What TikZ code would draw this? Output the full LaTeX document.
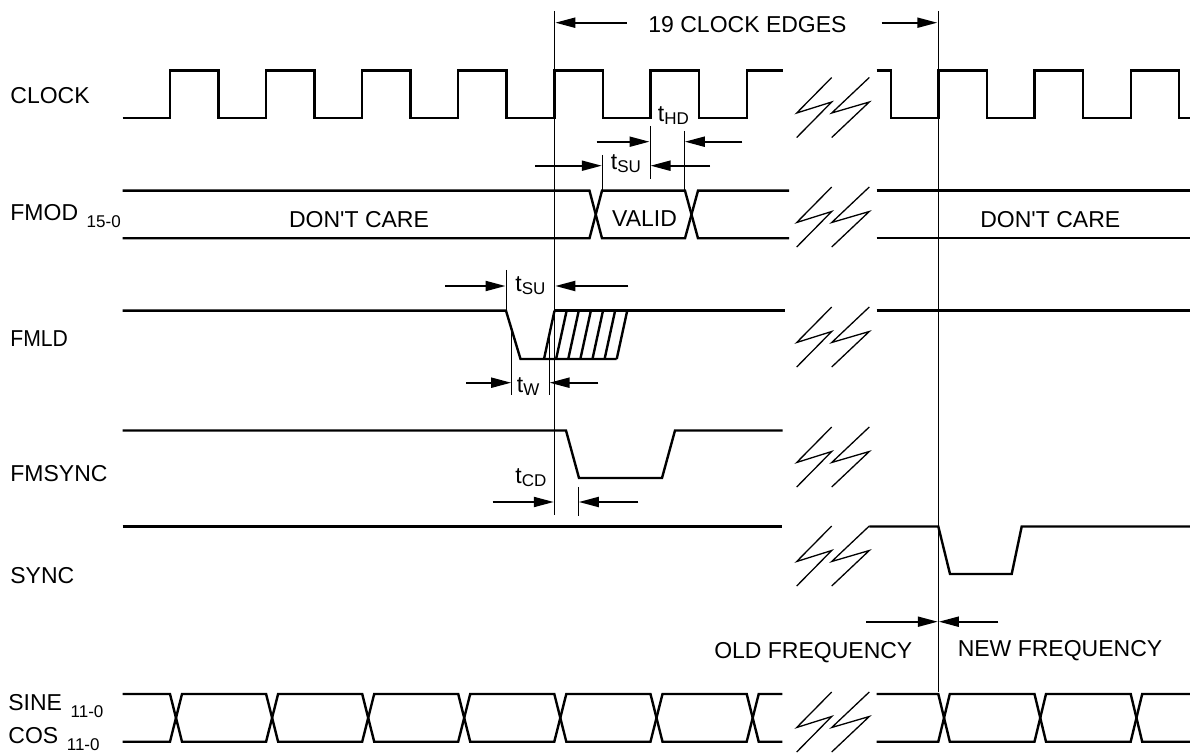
\documentclass[tikz,border=0pt]{standalone}
\usepackage{fontspec}
\setmainfont{Liberation Sans}
\usetikzlibrary{arrows.meta}
\newcommand\sbx[1]{{\fontsize{8.5}{10}\selectfont #1}}
\newcommand\tsub[1]{t\raisebox{-1.4pt}{\sbx{#1}}}
\newcommand\lsub[2]{#1\hspace{4.3pt}\raisebox{-3.6pt}{\sbx{#2}}}
\newcommand\apos{\XeTeXglyph\numexpr\XeTeXcharglyph"27\relax}
\begin{document}
\begin{tikzpicture}[x=0.5pt,y=-0.5pt,
  sig/.style={line width=1.2pt, line join=miter},
  thinl/.style={line width=0.5pt},
  zig/.style={line width=0.65pt},
  dim/.style={line width=1pt,-{Triangle[length=10pt,width=5pt]}},
  lbl/.style={anchor=base west, inner sep=0pt, font=\fontsize{11.5}{13}\selectfont},
  txt/.style={anchor=base, inner sep=0pt, font=\fontsize{11.5}{13}\selectfont},
  tl/.style={anchor=base west, inner sep=0pt, font=\fontsize{11.5}{13}\selectfont},
]
\useasboundingbox (0,0) rectangle (1190,754);

% ---------- reference lines ----------
\coordinate (refA top) at (554.3,11);
\coordinate (refA bot) at (554.3,515);
\coordinate (refB top) at (938.3,11);
\coordinate (refB bot) at (938.3,692);
\draw[thinl] (refA top) -- (refA bot);
\draw[thinl] (refB top) -- (refB bot);

% ---------- labels ----------
\node[lbl] (lclk) at (10,103.3) {CLOCK};
\node[lbl] (lfmod) at (10,220.7) {\lsub{FMOD}{15-0}};
\node[lbl] (lfmld) at (10,346.7) {\scalebox{0.92}[1]{FMLD}};
\node[lbl] (lfmsync) at (10,481) {FMSYNC};
\node[lbl] (lsync) at (10,583) {SYNC};
\node[lbl] (lsine) at (8,710) {\lsub{SINE}{11-0}};
\node[lbl] (lcos) at (8,743) {\lsub{COS}{11-0}};

% ---------- 19 clock edges ----------
\node[txt] (edges) at (747.5,32.3) {19 CLOCK EDGES};
\coordinate (eL) at (626.7,22.7);
\coordinate (eLt) at (555.3,22.7);
\coordinate (eR) at (881.7,22.7);
\coordinate (eRt) at (937.3,22.7);
\draw[dim] (eL) -- (eLt);
\draw[dim] (eR) -- (eRt);

% ---------- CLOCK ----------
\draw[sig] (122.5,118)
  \foreach \r in {170,266.1,362.2,458.2,554.3,650.5} { -- (\r,118) -- (\r,70.5) -- ({\r+48.4},70.5) -- ({\r+48.4},118) }
  -- (746.7,118) -- (746.7,70.5) -- (782.7,70.5);
\draw[sig] (876.7,70.5) -- (890.7,70.5) -- (890.7,118)
  \foreach \r in {938.3,1034.5,1130.7} { -- (\r,118) -- (\r,70.5) -- ({\r+48.4},70.5) -- ({\r+48.4},118) }
  -- (1190,118);

% ---------- FMOD ----------
\draw[sig] (122.5,190.7) -- (589.5,190.7) -- (602,238.3) -- (685,238.3) -- (698,190.7) -- (789,190.7);
\draw[sig] (122.5,238.3) -- (589.5,238.3) -- (602,190.7) -- (685,190.7) -- (698,238.3) -- (789,238.3);
\draw[sig] (876.7,190.7) -- (1190,190.7);
\draw[sig] (876.7,238.3) -- (1190,238.3);
\node[txt] (dc1) at (359,227.7) {DON\apos T CARE};
\node[txt] (valid) at (644.5,227) {VALID};
\node[txt] (dc2) at (1050.3,227.7) {DON\apos T CARE};

% tHD / tSU for FMOD
\draw[thinl] (650,126) -- (650,179);
\draw[thinl] (684.3,131) -- (684.3,190.7);
\draw[thinl] (602.3,155) -- (602.3,190.7);
\node[tl] (thd) at (657.5,121.5) {\tsub{HD}};
\draw[dim] (596.7,141.7) -- (649.5,141.7);
\draw[dim] (742.3,141.7) -- (684.8,141.7);
\node[tl] (tsu1) at (610.5,170) {\tsub{SU}};
\draw[dim] (535,165.7) -- (601.8,165.7);
\draw[dim] (710,165.7) -- (650.5,165.7);

% ---------- FMLD ----------
\draw[sig] (122.5,310.7) -- (506,310.7) -- (520.5,359) -- (616.7,359);
\draw[sig] (554.5,310.7) -- (785,310.7);
\foreach \i in {0,...,6} {
  \draw[sig] ({544+\i*12.12},359) -- ({554.5+\i*12.12},310.7);
}
\draw[sig] (876.7,310.7) -- (1190,310.7);
% tSU for FMLD
\draw[thinl] (506,270) -- (506,310.7);
\node[tl] (tsu2) at (515,292) {\tsub{SU}};
\draw[dim] (445,286) -- (505.5,286);
\draw[dim] (628.3,286) -- (555.3,286);
% tW
\draw[thinl] (511.7,329) -- (511.7,395);
\draw[thinl] (549,335) -- (549,395);
\node[tl] (tw) at (516.5,392.5) {\tsub{W}};
\draw[dim] (466,382.7) -- (511.2,382.7);
\draw[dim] (598.3,382.7) -- (549.5,382.7);

% ---------- FMSYNC ----------
\draw[sig] (122.5,430.5) -- (566,430.5) -- (579,478) -- (662,478) -- (675,430.5) -- (782.7,430.5);
% tCD
\draw[thinl] (578.3,487) -- (578.3,516);
\node[tl] (tcd) at (515,484) {\tsub{CD}};
\draw[dim] (492.7,502) -- (553.8,502);
\draw[dim] (638.3,502) -- (578.8,502);

% ---------- SYNC ----------
\draw[sig] (122.5,526.5) -- (782.3,526.5);
\draw[sig] (869.3,526.5) -- (938.3,526.5) -- (950,574) -- (1011.7,574) -- (1021.7,526.5) -- (1190,526.5);

% old / new frequency
\node[txt] (oldf) at (813.3,658.3) {OLD FREQUENCY};
\node[txt] (newf) at (1060,656) {NEW FREQUENCY};
\draw[dim] (866,621.7) -- (937.8,621.7);
\draw[dim] (998.3,621.7) -- (938.8,621.7);

% ---------- SINE / COS ----------
\draw[sig] (122.5,694) -- (170,694) -- (182,741.7) -- (266.1,741.7) -- (278.1,694) -- (362.2,694) -- (374.2,741.7) -- (458.2,741.7) -- (470.2,694) -- (554.3,694) -- (566.3,741.7) -- (650.5,741.7) -- (662.5,694) -- (746.7,694) -- (758.7,741.7) -- (782.3,741.7);
\draw[sig] (122.5,741.7) -- (170,741.7) -- (182,694) -- (266.1,694) -- (278.1,741.7) -- (362.2,741.7) -- (374.2,694) -- (458.2,694) -- (470.2,741.7) -- (554.3,741.7) -- (566.3,694) -- (650.5,694) -- (662.5,741.7) -- (746.7,741.7) -- (758.7,694) -- (782.3,694);
\draw[sig] (876.7,694) -- (938.3,694) -- (949.8,741.7) -- (1034.5,741.7) -- (1046,694) -- (1130.7,694) -- (1142.2,741.7) -- (1190,741.7);
\draw[sig] (876.7,741.7) -- (938.3,741.7) -- (949.8,694) -- (1034.5,694) -- (1046,741.7) -- (1130.7,741.7) -- (1142.2,694) -- (1190,694);

% ---------- break marks ----------
\foreach \y in {77.5,187,307,427,526,692} {
  \draw[zig] (831.7,\y) -- ++(-35,35.5) -- ++(35,-11) -- ++(-35,35.5);
  \draw[zig] (869.3,\y) -- ++(-37.6,35.5) -- ++(37.6,-11) -- ++(-37.6,35.5);
}
\end{tikzpicture}
\end{document}
